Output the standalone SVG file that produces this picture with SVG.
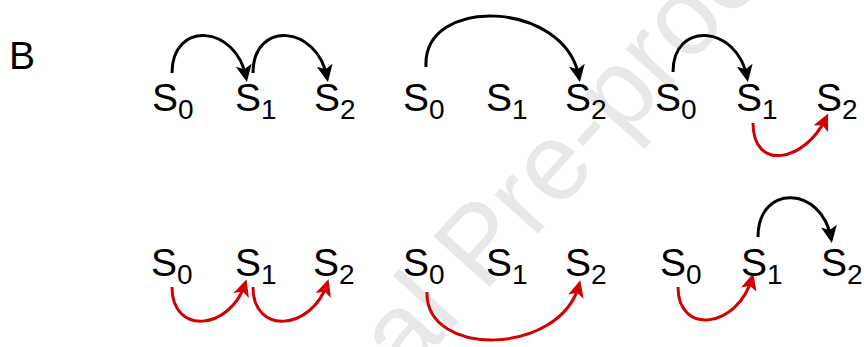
<svg xmlns="http://www.w3.org/2000/svg" width="864" height="347" viewBox="0 0 864 347">
  <style>
    .lbl { font-family: "Liberation Sans", Arial, sans-serif; font-size: 39px; fill: #000; }
    .sub { font-size: 28px; }
    .wm { font-family: "Liberation Sans", Arial, sans-serif; font-size: 110px; fill: #e8e8e8; }
    .blk { fill: none; stroke: #000; stroke-width: 3; marker-end: url(#ah-k); }
    .red { fill: none; stroke: #d20000; stroke-width: 3; marker-end: url(#ah-r); }
  </style>
  <defs>
    <marker id="ah-k" markerUnits="userSpaceOnUse" markerWidth="18" markerHeight="16" refX="12" refY="8" orient="auto">
      <path d="M0,0 L17,8 L0,16 L4,8 z" fill="#000"/>
    </marker>
    <marker id="ah-r" markerUnits="userSpaceOnUse" markerWidth="18" markerHeight="16" refX="12" refY="8" orient="auto">
      <path d="M0,0 L17,8 L0,16 L4,8 z" fill="#d20000"/>
    </marker>
  </defs>
  <rect width="864" height="347" fill="#fff"/>
  <text class="wm" transform="translate(406,380) rotate(-48)">al Pre-proof</text>
  <text class="lbl" x="9" y="69" font-size="40">B</text>

  <g id="connectors">
    <path class="blk" d="M172,73 C172,20 236,25 246,77"/>
    <path class="blk" d="M253,73 C253,20 317,25 327,77"/>
    <path class="blk" d="M426,67 C422,-5 565,0 579,77"/>
    <path class="blk" d="M673,72 C673,20 737,25 747,77"/>
    <path class="red" d="M753,123 C753,172 805,162 826,118"/>
    <path class="red" d="M172,287 C172,336 230,330 245,284"/>
    <path class="red" d="M253,287 C253,336 312,330 327,284"/>
    <path class="red" d="M427,292 C425,358 560,356 579,285"/>
    <path class="red" d="M678,287 C678,336 738,328 752,278"/>
    <path class="blk" d="M758,237 C758,183 822,186 831,238"/>
  </g>

  <g id="r1a-s0"><text class="lbl" x="152" y="111">S<tspan class="sub" dy="8">0</tspan></text></g>
  <g id="r1a-s1"><text class="lbl" x="235" y="111">S<tspan class="sub" dy="8">1</tspan></text></g>
  <g id="r1a-s2"><text class="lbl" x="314" y="111">S<tspan class="sub" dy="8">2</tspan></text></g>
  <g id="r1b-s0"><text class="lbl" x="403" y="111">S<tspan class="sub" dy="8">0</tspan></text></g>
  <g id="r1b-s1"><text class="lbl" x="486" y="111">S<tspan class="sub" dy="8">1</tspan></text></g>
  <g id="r1b-s2"><text class="lbl" x="565" y="111">S<tspan class="sub" dy="8">2</tspan></text></g>
  <g id="r1c-s0"><text class="lbl" x="655" y="111">S<tspan class="sub" dy="8">0</tspan></text></g>
  <g id="r1c-s1"><text class="lbl" x="736" y="111">S<tspan class="sub" dy="8">1</tspan></text></g>
  <g id="r1c-s2"><text class="lbl" x="816" y="111">S<tspan class="sub" dy="8">2</tspan></text></g>

  <g id="r2a-s0"><text class="lbl" x="151" y="276">S<tspan class="sub" dy="8">0</tspan></text></g>
  <g id="r2a-s1"><text class="lbl" x="235" y="276">S<tspan class="sub" dy="8">1</tspan></text></g>
  <g id="r2a-s2"><text class="lbl" x="313" y="276">S<tspan class="sub" dy="8">2</tspan></text></g>
  <g id="r2b-s0"><text class="lbl" x="403" y="276">S<tspan class="sub" dy="8">0</tspan></text></g>
  <g id="r2b-s1"><text class="lbl" x="486" y="276">S<tspan class="sub" dy="8">1</tspan></text></g>
  <g id="r2b-s2"><text class="lbl" x="565" y="276">S<tspan class="sub" dy="8">2</tspan></text></g>
  <g id="r2c-s0"><text class="lbl" x="660" y="276">S<tspan class="sub" dy="8">0</tspan></text></g>
  <g id="r2c-s1"><text class="lbl" x="741" y="276">S<tspan class="sub" dy="8">1</tspan></text></g>
  <g id="r2c-s2"><text class="lbl" x="821" y="276">S<tspan class="sub" dy="8">2</tspan></text></g>
</svg>
